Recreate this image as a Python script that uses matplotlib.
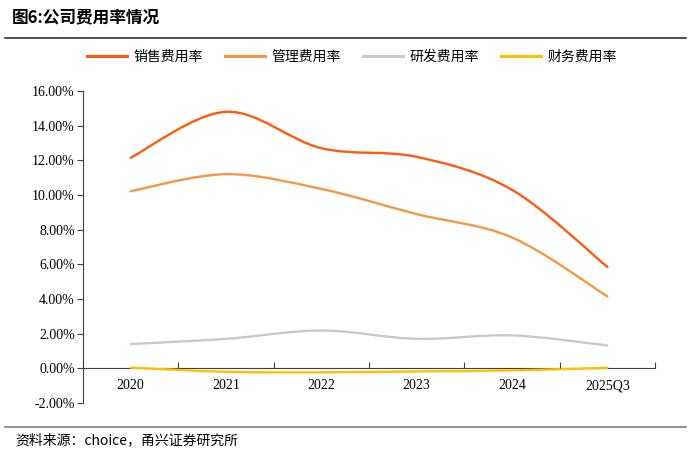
"""公司费用率情况 — four expense-ratio series, Excel-style smoothed lines."""
import matplotlib
matplotlib.use("Agg")
import matplotlib.pyplot as plt
from matplotlib.path import Path
from matplotlib.patches import PathPatch
from matplotlib.lines import Line2D

plt.rcParams["font.family"] = ["Liberation Serif", "Noto Sans CJK SC", "DejaVu Sans"]
CJK = ["Noto Sans CJK SC", "DejaVu Sans"]

YEARS = ["2020", "2021", "2022", "2023", "2024", "2025Q3"]
SALES = [12.15, 14.80, 12.70, 12.20, 10.30, 5.85]
ADMIN = [10.22, 11.20, 10.35, 8.90, 7.55, 4.15]
RND = [1.40, 1.70, 2.18, 1.70, 1.90, 1.32]
FIN = [0.04, -0.20, -0.23, -0.18, -0.12, 0.03]

SERIES = [
    ("销售费用率", SALES, "#FF5A10"),
    ("管理费用率", ADMIN, "#F79646"),
    ("研发费用率", RND, "#C9C9C9"),
    ("财务费用率", FIN, "#FFC000"),
]


def smooth_path(xs, ys):
    # bezier through every point, like Excel's "smoothed line"
    verts = [(xs[0], ys[0])]
    codes = [Path.MOVETO]
    n = len(xs)
    for i in range(n - 1):
        x0, y0 = xs[max(i - 1, 0)], ys[max(i - 1, 0)]
        x1, y1 = xs[i], ys[i]
        x2, y2 = xs[i + 1], ys[i + 1]
        x3, y3 = xs[min(i + 2, n - 1)], ys[min(i + 2, n - 1)]
        c1 = (x1 + (x2 - x0) / 6, y1 + (y2 - y0) / 6)
        c2 = (x2 - (x3 - x1) / 6, y2 - (y3 - y1) / 6)
        verts += [c1, c2, (x2, y2)]
        codes += [Path.CURVE4] * 3
    return Path(verts, codes)


fig = plt.figure(figsize=(6.91, 4.53), dpi=100)
ax = fig.add_axes([0.1201, 0.1104, 0.8278, 0.6887])

xs = list(range(len(YEARS)))
handles = []
for name, vals, color in SERIES:
    ax.add_patch(PathPatch(smooth_path(xs, vals), fill=False, edgecolor=color,
                           linewidth=1.7, capstyle="round"))
    handles.append(Line2D([], [], color=color, linewidth=2.2, label=name))

ax.set_xlim(-0.5, len(YEARS) - 0.5)
ax.set_ylim(-2, 16)
ax.set_yticks(range(-2, 17, 2))
ax.set_yticklabels([f"{v:.2f}%" for v in range(-2, 17, 2)], fontsize=10)

# ticks sit between categories, labels at category centres
ax.set_xticks([i - 0.5 for i in range(len(YEARS) + 1)])
ax.set_xticklabels([])
ax.set_xticks(xs, minor=True)
ax.set_xticklabels(YEARS, minor=True, fontsize=10)
ax.tick_params(axis="x", which="major", direction="in", length=4, color="#404040")
ax.tick_params(axis="x", which="minor", length=0, pad=8)
ax.tick_params(axis="y", direction="out", length=4, color="#404040", pad=2)

for s in ("top", "right"):
    ax.spines[s].set_visible(False)
ax.spines["bottom"].set_position(("data", 0))
ax.spines["bottom"].set_color("#404040")
ax.spines["left"].set_color("#404040")
ax.spines["bottom"].set_zorder(0)

ax.legend(handles=handles, loc="center", bbox_to_anchor=(0.47, 1.11), ncol=4,
          frameon=False, handlelength=2.9, columnspacing=1.6, handletextpad=0.45,
          prop={"family": CJK, "size": 10})

fig.text(0.017, 0.962, "图6:公司费用率情况", fontsize=12, fontweight="bold",
         family=CJK, va="center", ha="left")
fig.add_artist(Line2D([0.007, 0.993], [0.917, 0.917], color="#303030",
                      linewidth=1.2, transform=fig.transFigure))
fig.add_artist(Line2D([0.007, 0.993], [0.058, 0.058], color="#808080",
                      linewidth=1.2, transform=fig.transFigure))
fig.text(0.022, 0.029, "资料来源：choice，甬兴证券研究所", fontsize=10,
         family=CJK, style="italic", va="center", ha="left")

fig.savefig("out.png", dpi=100, facecolor="white")
